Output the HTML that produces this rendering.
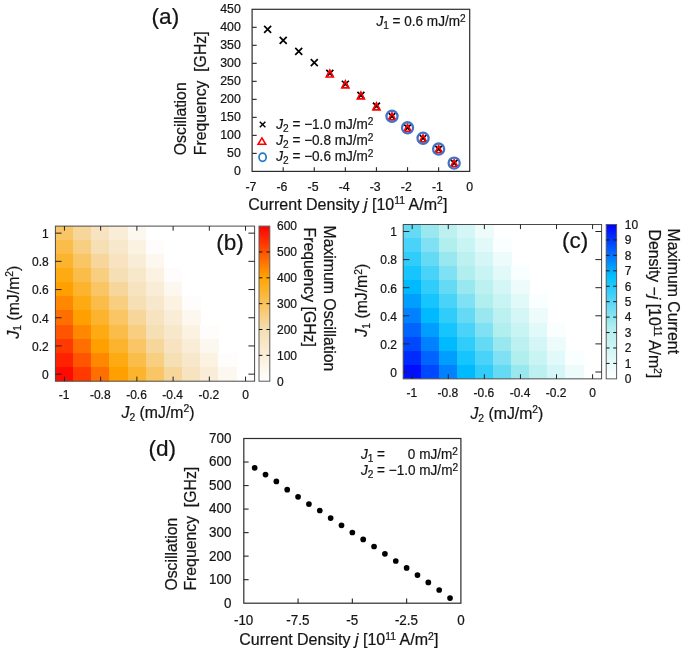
<!DOCTYPE html>
<html><head><meta charset="utf-8"><title>Figure</title>
<style>
html,body{margin:0;padding:0;background:#fff;}
body{width:685px;height:652px;overflow:hidden;font-family:"Liberation Sans", sans-serif;}
svg{display:block;will-change:transform;font-family:"Liberation Sans", sans-serif;}
text{font-family:"Liberation Sans", sans-serif;}
</style></head><body>
<svg width="685" height="652" viewBox="0 0 685 652">
<rect width="685" height="652" fill="#fff"/>
<rect x="252.1" y="9.3" width="217.60" height="162.10" fill="none" stroke="#2c2c2c" stroke-width="1.2"/>
<text transform="translate(240.80 175.20)" font-size="12.3" text-anchor="end" fill="#151515" stroke="#151515" stroke-width="0.22"><tspan>0</tspan></text>
<line x1="252.1" x2="256.7" y1="153.39" y2="153.39" stroke="#2c2c2c" stroke-width="1.15"/>
<text transform="translate(240.80 157.19)" font-size="12.3" text-anchor="end" fill="#151515" stroke="#151515" stroke-width="0.22"><tspan>50</tspan></text>
<line x1="252.1" x2="256.7" y1="135.38" y2="135.38" stroke="#2c2c2c" stroke-width="1.15"/>
<text transform="translate(240.80 139.18)" font-size="12.3" text-anchor="end" fill="#151515" stroke="#151515" stroke-width="0.22"><tspan>100</tspan></text>
<line x1="252.1" x2="256.7" y1="117.37" y2="117.37" stroke="#2c2c2c" stroke-width="1.15"/>
<text transform="translate(240.80 121.17)" font-size="12.3" text-anchor="end" fill="#151515" stroke="#151515" stroke-width="0.22"><tspan>150</tspan></text>
<line x1="252.1" x2="256.7" y1="99.36" y2="99.36" stroke="#2c2c2c" stroke-width="1.15"/>
<text transform="translate(240.80 103.16)" font-size="12.3" text-anchor="end" fill="#151515" stroke="#151515" stroke-width="0.22"><tspan>200</tspan></text>
<line x1="252.1" x2="256.7" y1="81.34" y2="81.34" stroke="#2c2c2c" stroke-width="1.15"/>
<text transform="translate(240.80 85.14)" font-size="12.3" text-anchor="end" fill="#151515" stroke="#151515" stroke-width="0.22"><tspan>250</tspan></text>
<line x1="252.1" x2="256.7" y1="63.33" y2="63.33" stroke="#2c2c2c" stroke-width="1.15"/>
<text transform="translate(240.80 67.13)" font-size="12.3" text-anchor="end" fill="#151515" stroke="#151515" stroke-width="0.22"><tspan>300</tspan></text>
<line x1="252.1" x2="256.7" y1="45.32" y2="45.32" stroke="#2c2c2c" stroke-width="1.15"/>
<text transform="translate(240.80 49.12)" font-size="12.3" text-anchor="end" fill="#151515" stroke="#151515" stroke-width="0.22"><tspan>350</tspan></text>
<line x1="252.1" x2="256.7" y1="27.31" y2="27.31" stroke="#2c2c2c" stroke-width="1.15"/>
<text transform="translate(240.80 31.11)" font-size="12.3" text-anchor="end" fill="#151515" stroke="#151515" stroke-width="0.22"><tspan>400</tspan></text>
<text transform="translate(240.80 13.10)" font-size="12.3" text-anchor="end" fill="#151515" stroke="#151515" stroke-width="0.22"><tspan>450</tspan></text>
<text transform="translate(250.90 191.00)" font-size="12.3" text-anchor="middle" fill="#151515" stroke="#151515" stroke-width="0.22"><tspan>-7</tspan></text>
<line x1="283.19" x2="283.19" y1="171.4" y2="167.20000000000002" stroke="#2c2c2c" stroke-width="1.15"/>
<text transform="translate(281.99 191.00)" font-size="12.3" text-anchor="middle" fill="#151515" stroke="#151515" stroke-width="0.22"><tspan>-6</tspan></text>
<line x1="314.27" x2="314.27" y1="171.4" y2="167.20000000000002" stroke="#2c2c2c" stroke-width="1.15"/>
<text transform="translate(313.07 191.00)" font-size="12.3" text-anchor="middle" fill="#151515" stroke="#151515" stroke-width="0.22"><tspan>-5</tspan></text>
<line x1="345.36" x2="345.36" y1="171.4" y2="167.20000000000002" stroke="#2c2c2c" stroke-width="1.15"/>
<text transform="translate(344.16 191.00)" font-size="12.3" text-anchor="middle" fill="#151515" stroke="#151515" stroke-width="0.22"><tspan>-4</tspan></text>
<line x1="376.44" x2="376.44" y1="171.4" y2="167.20000000000002" stroke="#2c2c2c" stroke-width="1.15"/>
<text transform="translate(375.24 191.00)" font-size="12.3" text-anchor="middle" fill="#151515" stroke="#151515" stroke-width="0.22"><tspan>-3</tspan></text>
<line x1="407.53" x2="407.53" y1="171.4" y2="167.20000000000002" stroke="#2c2c2c" stroke-width="1.15"/>
<text transform="translate(406.33 191.00)" font-size="12.3" text-anchor="middle" fill="#151515" stroke="#151515" stroke-width="0.22"><tspan>-2</tspan></text>
<line x1="438.61" x2="438.61" y1="171.4" y2="167.20000000000002" stroke="#2c2c2c" stroke-width="1.15"/>
<text transform="translate(437.41 191.00)" font-size="12.3" text-anchor="middle" fill="#151515" stroke="#151515" stroke-width="0.22"><tspan>-1</tspan></text>
<text transform="translate(469.70 191.00)" font-size="12.3" text-anchor="middle" fill="#151515" stroke="#151515" stroke-width="0.22"><tspan>0</tspan></text>
<text transform="translate(248.20 209.80) scale(1.014 1)" font-size="15.8" text-anchor="start" fill="#151515" stroke="#151515" stroke-width="0.22"><tspan>Current Density </tspan><tspan font-style="italic">j</tspan><tspan> [10</tspan><tspan font-size="10.3" dy="-5.70">11</tspan><tspan dy="5.70"> A/m</tspan><tspan font-size="10.3" dy="-5.70">2</tspan><tspan dy="5.70">]</tspan></text>
<text transform="translate(186.40 155.20) rotate(-90)" font-size="15.8" text-anchor="start" fill="#151515" stroke="#151515" stroke-width="0.22"><tspan>Oscillation</tspan></text>
<text transform="translate(205.60 155.20) rotate(-90)" font-size="15.8" text-anchor="start" fill="#151515" stroke="#151515" stroke-width="0.22"><tspan>Frequency&#160;&#160;[GHz]</tspan></text>
<text transform="translate(151.60 24.10)" font-size="22.6" text-anchor="start" fill="#151515" stroke="#151515" stroke-width="0.22"><tspan>(a)</tspan></text>
<text transform="translate(376.40 25.70) scale(0.962 1)" font-size="14.1" text-anchor="start" fill="#151515" stroke="#151515" stroke-width="0.22"><tspan font-style="italic">J</tspan><tspan font-size="10.5" dy="3.10">1</tspan><tspan dy="-3.10"> = 0.6 mJ/m</tspan><tspan font-size="10.5" dy="-3.90">2</tspan></text>
<path d="M450.66 159.61L457.66 166.61M450.66 166.61L457.66 159.61" stroke="#000" stroke-width="1.7" fill="none"/>
<path d="M435.11 145.57L442.11 152.57M435.11 152.57L442.11 145.57" stroke="#000" stroke-width="1.7" fill="none"/>
<path d="M419.57 134.76L426.57 141.76M419.57 141.76L426.57 134.76" stroke="#000" stroke-width="1.7" fill="none"/>
<path d="M404.03 124.31L411.03 131.31M404.03 131.31L411.03 124.31" stroke="#000" stroke-width="1.7" fill="none"/>
<path d="M388.49 112.79L395.49 119.79M388.49 119.79L395.49 112.79" stroke="#000" stroke-width="1.7" fill="none"/>
<path d="M372.94 102.70L379.94 109.70M372.94 109.70L379.94 102.70" stroke="#000" stroke-width="1.7" fill="none"/>
<path d="M357.40 91.89L364.40 98.89M357.40 98.89L364.40 91.89" stroke="#000" stroke-width="1.7" fill="none"/>
<path d="M341.86 80.73L348.86 87.73M341.86 87.73L348.86 80.73" stroke="#000" stroke-width="1.7" fill="none"/>
<path d="M326.31 69.92L333.31 76.92M326.31 76.92L333.31 69.92" stroke="#000" stroke-width="1.7" fill="none"/>
<path d="M310.77 59.11L317.77 66.11M310.77 66.11L317.77 59.11" stroke="#000" stroke-width="1.7" fill="none"/>
<path d="M295.23 47.95L302.23 54.95M295.23 54.95L302.23 47.95" stroke="#000" stroke-width="1.7" fill="none"/>
<path d="M279.69 36.78L286.69 43.78M279.69 43.78L286.69 36.78" stroke="#000" stroke-width="1.7" fill="none"/>
<path d="M264.14 25.97L271.14 32.97M264.14 32.97L271.14 25.97" stroke="#000" stroke-width="1.7" fill="none"/>
<path d="M454.16 159.79L457.61 166.69L450.71 166.69Z" stroke="#ff0000" stroke-width="1.7" fill="none" stroke-linejoin="miter" stroke-miterlimit="10"/>
<path d="M438.61 145.74L442.06 152.64L435.16 152.64Z" stroke="#ff0000" stroke-width="1.7" fill="none" stroke-linejoin="miter" stroke-miterlimit="10"/>
<path d="M423.07 134.94L426.52 141.84L419.62 141.84Z" stroke="#ff0000" stroke-width="1.7" fill="none" stroke-linejoin="miter" stroke-miterlimit="10"/>
<path d="M407.53 124.49L410.98 131.39L404.08 131.39Z" stroke="#ff0000" stroke-width="1.7" fill="none" stroke-linejoin="miter" stroke-miterlimit="10"/>
<path d="M391.99 112.96L395.44 119.86L388.54 119.86Z" stroke="#ff0000" stroke-width="1.7" fill="none" stroke-linejoin="miter" stroke-miterlimit="10"/>
<path d="M376.44 102.88L379.89 109.78L372.99 109.78Z" stroke="#ff0000" stroke-width="1.7" fill="none" stroke-linejoin="miter" stroke-miterlimit="10"/>
<path d="M360.90 92.07L364.35 98.97L357.45 98.97Z" stroke="#ff0000" stroke-width="1.7" fill="none" stroke-linejoin="miter" stroke-miterlimit="10"/>
<path d="M345.36 80.90L348.81 87.80L341.91 87.80Z" stroke="#ff0000" stroke-width="1.7" fill="none" stroke-linejoin="miter" stroke-miterlimit="10"/>
<path d="M329.81 70.10L333.26 77.00L326.36 77.00Z" stroke="#ff0000" stroke-width="1.7" fill="none" stroke-linejoin="miter" stroke-miterlimit="10"/>
<ellipse cx="454.16" cy="163.11" rx="5.55" ry="5.55" stroke="#4472c4" stroke-width="2.3" fill="none"/>
<ellipse cx="438.61" cy="149.07" rx="5.55" ry="5.55" stroke="#4472c4" stroke-width="2.3" fill="none"/>
<ellipse cx="423.07" cy="138.26" rx="5.55" ry="5.55" stroke="#4472c4" stroke-width="2.3" fill="none"/>
<ellipse cx="407.53" cy="127.81" rx="5.55" ry="5.55" stroke="#4472c4" stroke-width="2.3" fill="none"/>
<ellipse cx="391.99" cy="116.29" rx="5.55" ry="5.55" stroke="#4472c4" stroke-width="2.3" fill="none"/>
<path d="M259.80 121.70L265.40 127.30M259.80 127.30L265.40 121.70" stroke="#000" stroke-width="1.4" fill="none"/>
<path d="M261.90 137.95L265.70 144.25L258.10 144.25Z" stroke="#ff0000" stroke-width="1.6" fill="none" stroke-linejoin="miter" stroke-miterlimit="10"/>
<ellipse cx="262.60" cy="157.30" rx="3.55" ry="4.1" stroke="#1f78c9" stroke-width="1.7" fill="none"/>
<text transform="translate(276.30 128.60) scale(0.962 1)" font-size="14.1" text-anchor="start" fill="#151515" stroke="#151515" stroke-width="0.22"><tspan font-style="italic">J</tspan><tspan font-size="10.5" dy="3.10">2</tspan><tspan dy="-3.10"> = &#8722;1.0 mJ/m</tspan><tspan font-size="10.5" dy="-3.90">2</tspan></text>
<text transform="translate(276.30 144.90) scale(0.962 1)" font-size="14.1" text-anchor="start" fill="#151515" stroke="#151515" stroke-width="0.22"><tspan font-style="italic">J</tspan><tspan font-size="10.5" dy="3.10">2</tspan><tspan dy="-3.10"> = &#8722;0.8 mJ/m</tspan><tspan font-size="10.5" dy="-3.90">2</tspan></text>
<text transform="translate(276.30 161.20) scale(0.962 1)" font-size="14.1" text-anchor="start" fill="#151515" stroke="#151515" stroke-width="0.22"><tspan font-style="italic">J</tspan><tspan font-size="10.5" dy="3.10">2</tspan><tspan dy="-3.10"> = &#8722;0.6 mJ/m</tspan><tspan font-size="10.5" dy="-3.90">2</tspan></text>
<clipPath id="clipb"><rect x="55.4" y="226.1" width="199.20" height="155.10"/></clipPath>
<g clip-path="url(#clipb)" shape-rendering="crispEdges">
<rect x="55.10" y="225.80" width="18.71" height="14.70" fill="#f9c565"/>
<rect x="55.10" y="239.90" width="18.71" height="14.70" fill="#fbbd4a"/>
<rect x="55.10" y="254.00" width="18.71" height="14.70" fill="#fcb42e"/>
<rect x="55.10" y="268.10" width="18.71" height="14.70" fill="#feab13"/>
<rect x="55.10" y="282.20" width="18.71" height="14.70" fill="#ff9f00"/>
<rect x="55.10" y="296.30" width="18.71" height="14.70" fill="#ff8800"/>
<rect x="55.10" y="310.40" width="18.71" height="14.70" fill="#ff6f00"/>
<rect x="55.10" y="324.50" width="18.71" height="14.70" fill="#ff5400"/>
<rect x="55.10" y="338.60" width="18.71" height="14.70" fill="#ff3900"/>
<rect x="55.10" y="352.70" width="18.71" height="14.70" fill="#ff2200"/>
<rect x="55.10" y="366.80" width="18.71" height="14.70" fill="#ff0a00"/>
<rect x="73.20" y="225.80" width="18.71" height="14.70" fill="#f6d69b"/>
<rect x="73.20" y="239.90" width="18.71" height="14.70" fill="#f8ce80"/>
<rect x="73.20" y="254.00" width="18.71" height="14.70" fill="#f9c565"/>
<rect x="73.20" y="268.10" width="18.71" height="14.70" fill="#fbbd4a"/>
<rect x="73.20" y="282.20" width="18.71" height="14.70" fill="#fcb42e"/>
<rect x="73.20" y="296.30" width="18.71" height="14.70" fill="#feab13"/>
<rect x="73.20" y="310.40" width="18.71" height="14.70" fill="#ff9f00"/>
<rect x="73.20" y="324.50" width="18.71" height="14.70" fill="#ff8800"/>
<rect x="73.20" y="338.60" width="18.71" height="14.70" fill="#ff6f00"/>
<rect x="73.20" y="352.70" width="18.71" height="14.70" fill="#ff5400"/>
<rect x="73.20" y="366.80" width="18.71" height="14.70" fill="#ff3900"/>
<rect x="91.32" y="225.80" width="18.71" height="14.70" fill="#f7e3c0"/>
<rect x="91.32" y="239.90" width="18.71" height="14.70" fill="#f5dfb5"/>
<rect x="91.32" y="254.00" width="18.71" height="14.70" fill="#f6d69b"/>
<rect x="91.32" y="268.10" width="18.71" height="14.70" fill="#f8ce80"/>
<rect x="91.32" y="282.20" width="18.71" height="14.70" fill="#f9c565"/>
<rect x="91.32" y="296.30" width="18.71" height="14.70" fill="#fbbd4a"/>
<rect x="91.32" y="310.40" width="18.71" height="14.70" fill="#fcb42e"/>
<rect x="91.32" y="324.50" width="18.71" height="14.70" fill="#feab13"/>
<rect x="91.32" y="338.60" width="18.71" height="14.70" fill="#ff9f00"/>
<rect x="91.32" y="352.70" width="18.71" height="14.70" fill="#ff8800"/>
<rect x="91.32" y="366.80" width="18.71" height="14.70" fill="#ff6f00"/>
<rect x="109.42" y="225.80" width="18.71" height="14.70" fill="#faedd7"/>
<rect x="109.42" y="239.90" width="18.71" height="14.70" fill="#f8e8cb"/>
<rect x="109.42" y="254.00" width="18.71" height="14.70" fill="#f7e3c0"/>
<rect x="109.42" y="268.10" width="18.71" height="14.70" fill="#f5dfb5"/>
<rect x="109.42" y="282.20" width="18.71" height="14.70" fill="#f6d69b"/>
<rect x="109.42" y="296.30" width="18.71" height="14.70" fill="#f8ce80"/>
<rect x="109.42" y="310.40" width="18.71" height="14.70" fill="#f9c565"/>
<rect x="109.42" y="324.50" width="18.71" height="14.70" fill="#fbbd4a"/>
<rect x="109.42" y="338.60" width="18.71" height="14.70" fill="#fcb42e"/>
<rect x="109.42" y="352.70" width="18.71" height="14.70" fill="#feab13"/>
<rect x="109.42" y="366.80" width="18.71" height="14.70" fill="#ff9f00"/>
<rect x="127.53" y="225.80" width="18.71" height="14.70" fill="#fdf8ef"/>
<rect x="127.53" y="239.90" width="18.71" height="14.70" fill="#fbf2e2"/>
<rect x="127.53" y="254.00" width="18.71" height="14.70" fill="#faedd7"/>
<rect x="127.53" y="268.10" width="18.71" height="14.70" fill="#f8e8cb"/>
<rect x="127.53" y="282.20" width="18.71" height="14.70" fill="#f7e3c0"/>
<rect x="127.53" y="296.30" width="18.71" height="14.70" fill="#f5dfb5"/>
<rect x="127.53" y="310.40" width="18.71" height="14.70" fill="#f6d69b"/>
<rect x="127.53" y="324.50" width="18.71" height="14.70" fill="#f8ce80"/>
<rect x="127.53" y="338.60" width="18.71" height="14.70" fill="#f9c565"/>
<rect x="127.53" y="352.70" width="18.71" height="14.70" fill="#fbbd4a"/>
<rect x="127.53" y="366.80" width="18.71" height="14.70" fill="#fcb42e"/>
<rect x="145.64" y="239.90" width="18.71" height="14.70" fill="#fefdfb"/>
<rect x="145.64" y="254.00" width="18.71" height="14.70" fill="#fdf8ef"/>
<rect x="145.64" y="268.10" width="18.71" height="14.70" fill="#fbf2e2"/>
<rect x="145.64" y="282.20" width="18.71" height="14.70" fill="#faedd7"/>
<rect x="145.64" y="296.30" width="18.71" height="14.70" fill="#f8e8cb"/>
<rect x="145.64" y="310.40" width="18.71" height="14.70" fill="#f7e3c0"/>
<rect x="145.64" y="324.50" width="18.71" height="14.70" fill="#f5dfb5"/>
<rect x="145.64" y="338.60" width="18.71" height="14.70" fill="#f6d69b"/>
<rect x="145.64" y="352.70" width="18.71" height="14.70" fill="#f8ce80"/>
<rect x="145.64" y="366.80" width="18.71" height="14.70" fill="#f9c565"/>
<rect x="163.75" y="268.10" width="18.71" height="14.70" fill="#fefdfb"/>
<rect x="163.75" y="282.20" width="18.71" height="14.70" fill="#fdf8ef"/>
<rect x="163.75" y="296.30" width="18.71" height="14.70" fill="#fbf2e2"/>
<rect x="163.75" y="310.40" width="18.71" height="14.70" fill="#faedd7"/>
<rect x="163.75" y="324.50" width="18.71" height="14.70" fill="#f8e8cb"/>
<rect x="163.75" y="338.60" width="18.71" height="14.70" fill="#f7e3c0"/>
<rect x="163.75" y="352.70" width="18.71" height="14.70" fill="#f5dfb5"/>
<rect x="163.75" y="366.80" width="18.71" height="14.70" fill="#f6d69b"/>
<rect x="181.86" y="296.30" width="18.71" height="14.70" fill="#fefdfb"/>
<rect x="181.86" y="310.40" width="18.71" height="14.70" fill="#fdf8ef"/>
<rect x="181.86" y="324.50" width="18.71" height="14.70" fill="#fbf2e2"/>
<rect x="181.86" y="338.60" width="18.71" height="14.70" fill="#faedd7"/>
<rect x="181.86" y="352.70" width="18.71" height="14.70" fill="#f8e8cb"/>
<rect x="181.86" y="366.80" width="18.71" height="14.70" fill="#f7e3c0"/>
<rect x="199.97" y="324.50" width="18.71" height="14.70" fill="#fefdfb"/>
<rect x="199.97" y="338.60" width="18.71" height="14.70" fill="#fdf8ef"/>
<rect x="199.97" y="352.70" width="18.71" height="14.70" fill="#fbf2e2"/>
<rect x="199.97" y="366.80" width="18.71" height="14.70" fill="#faedd7"/>
<rect x="218.08" y="352.70" width="18.71" height="14.70" fill="#fefdfb"/>
<rect x="218.08" y="366.80" width="18.71" height="14.70" fill="#fdf8ef"/>
</g>
<rect x="55.4" y="226.1" width="199.20" height="155.10" fill="none" stroke="#4a4a4a" stroke-width="1"/>
<path d="M64.45 226.1v4.6M64.45 381.2v-4.6M55.4 233.15h6.2M254.6 233.15h-6.2" stroke="#222" stroke-width="1" fill="none"/>
<text transform="translate(64.05 399.00)" font-size="12" text-anchor="middle" fill="#151515" stroke="#151515" stroke-width="0.22"><tspan>-1</tspan></text>
<text transform="translate(48.80 237.95)" font-size="12" text-anchor="end" fill="#151515" stroke="#151515" stroke-width="0.22"><tspan>1</tspan></text>
<path d="M100.67 226.1v4.6M100.67 381.2v-4.6M55.4 261.35h6.2M254.6 261.35h-6.2" stroke="#222" stroke-width="1" fill="none"/>
<text transform="translate(100.27 399.00)" font-size="12" text-anchor="middle" fill="#151515" stroke="#151515" stroke-width="0.22"><tspan>-0.8</tspan></text>
<text transform="translate(48.80 266.15)" font-size="12" text-anchor="end" fill="#151515" stroke="#151515" stroke-width="0.22"><tspan>0.8</tspan></text>
<path d="M136.89 226.1v4.6M136.89 381.2v-4.6M55.4 289.55h6.2M254.6 289.55h-6.2" stroke="#222" stroke-width="1" fill="none"/>
<text transform="translate(136.49 399.00)" font-size="12" text-anchor="middle" fill="#151515" stroke="#151515" stroke-width="0.22"><tspan>-0.6</tspan></text>
<text transform="translate(48.80 294.35)" font-size="12" text-anchor="end" fill="#151515" stroke="#151515" stroke-width="0.22"><tspan>0.6</tspan></text>
<path d="M173.11 226.1v4.6M173.11 381.2v-4.6M55.4 317.75h6.2M254.6 317.75h-6.2" stroke="#222" stroke-width="1" fill="none"/>
<text transform="translate(172.71 399.00)" font-size="12" text-anchor="middle" fill="#151515" stroke="#151515" stroke-width="0.22"><tspan>-0.4</tspan></text>
<text transform="translate(48.80 322.55)" font-size="12" text-anchor="end" fill="#151515" stroke="#151515" stroke-width="0.22"><tspan>0.4</tspan></text>
<path d="M209.33 226.1v4.6M209.33 381.2v-4.6M55.4 345.95h6.2M254.6 345.95h-6.2" stroke="#222" stroke-width="1" fill="none"/>
<text transform="translate(208.93 399.00)" font-size="12" text-anchor="middle" fill="#151515" stroke="#151515" stroke-width="0.22"><tspan>-0.2</tspan></text>
<text transform="translate(48.80 350.75)" font-size="12" text-anchor="end" fill="#151515" stroke="#151515" stroke-width="0.22"><tspan>0.2</tspan></text>
<path d="M245.55 226.1v4.6M245.55 381.2v-4.6M55.4 374.15h6.2M254.6 374.15h-6.2" stroke="#222" stroke-width="1" fill="none"/>
<text transform="translate(245.55 399.00)" font-size="12" text-anchor="middle" fill="#151515" stroke="#151515" stroke-width="0.22"><tspan>0</tspan></text>
<text transform="translate(48.80 378.95)" font-size="12" text-anchor="end" fill="#151515" stroke="#151515" stroke-width="0.22"><tspan>0</tspan></text>
<text transform="translate(158.00 418.00)" font-size="15.8" text-anchor="middle" fill="#151515" stroke="#151515" stroke-width="0.22"><tspan font-style="italic">J</tspan><tspan font-size="10.3" dy="2.80">2</tspan><tspan dy="-2.80"> (mJ/m</tspan><tspan font-size="10.3" dy="-5.70">2</tspan><tspan dy="5.70">)</tspan></text>
<text transform="translate(18.50 302.15) rotate(-90)" font-size="15.8" text-anchor="middle" fill="#151515" stroke="#151515" stroke-width="0.22"><tspan font-style="italic">J</tspan><tspan font-size="10.3" dy="2.80">1</tspan><tspan dy="-2.80"> (mJ/m</tspan><tspan font-size="10.3" dy="-5.70">2</tspan><tspan dy="5.70">)</tspan></text>
<text transform="translate(216.20 249.60)" font-size="22.6" text-anchor="start" fill="#151515" stroke="#151515" stroke-width="0.22"><tspan>(b)</tspan></text>
<linearGradient id="gradb" x1="0" y1="1" x2="0" y2="0">
<stop offset="0" stop-color="#ffffff"/>
<stop offset="0.3333" stop-color="#f5deb3"/>
<stop offset="0.6667" stop-color="#ffa500"/>
<stop offset="1" stop-color="#ff0000"/>
</linearGradient>
<rect x="259.0" y="226.1" width="10.80" height="155.10" fill="url(#gradb)" stroke="#5a5a5a" stroke-width="1"/>
<text transform="translate(277.00 385.50)" font-size="12" text-anchor="start" fill="#151515" stroke="#151515" stroke-width="0.22"><tspan>0</tspan></text>
<path d="M259.0 355.35h3.4M269.8 355.35h-3.4" stroke="#111" stroke-width="1" fill="none"/>
<text transform="translate(277.00 359.65)" font-size="12" text-anchor="start" fill="#151515" stroke="#151515" stroke-width="0.22"><tspan>100</tspan></text>
<path d="M259.0 329.50h3.4M269.8 329.50h-3.4" stroke="#111" stroke-width="1" fill="none"/>
<text transform="translate(277.00 333.80)" font-size="12" text-anchor="start" fill="#151515" stroke="#151515" stroke-width="0.22"><tspan>200</tspan></text>
<path d="M259.0 303.65h3.4M269.8 303.65h-3.4" stroke="#111" stroke-width="1" fill="none"/>
<text transform="translate(277.00 307.95)" font-size="12" text-anchor="start" fill="#151515" stroke="#151515" stroke-width="0.22"><tspan>300</tspan></text>
<path d="M259.0 277.80h3.4M269.8 277.80h-3.4" stroke="#111" stroke-width="1" fill="none"/>
<text transform="translate(277.00 282.10)" font-size="12" text-anchor="start" fill="#151515" stroke="#151515" stroke-width="0.22"><tspan>400</tspan></text>
<path d="M259.0 251.95h3.4M269.8 251.95h-3.4" stroke="#111" stroke-width="1" fill="none"/>
<text transform="translate(277.00 256.25)" font-size="12" text-anchor="start" fill="#151515" stroke="#151515" stroke-width="0.22"><tspan>500</tspan></text>
<text transform="translate(277.00 230.40)" font-size="12" text-anchor="start" fill="#151515" stroke="#151515" stroke-width="0.22"><tspan>600</tspan></text>
<text transform="translate(323.50 225.50) rotate(90)" font-size="15.8" text-anchor="start" fill="#151515" stroke="#151515" stroke-width="0.22"><tspan>Maximum Oscillation</tspan></text>
<text transform="translate(304.40 227.50) rotate(90)" font-size="15.8" text-anchor="start" fill="#151515" stroke="#151515" stroke-width="0.22"><tspan>Frequency [GHz]</tspan></text>
<clipPath id="clipc"><rect x="403.2" y="224.5" width="198.40" height="154.35"/></clipPath>
<g clip-path="url(#clipc)" shape-rendering="crispEdges">
<rect x="402.88" y="224.17" width="18.64" height="14.65" fill="#65daf5"/>
<rect x="402.88" y="238.22" width="18.64" height="14.65" fill="#4ad3f8"/>
<rect x="402.88" y="252.28" width="18.64" height="14.65" fill="#30ccfa"/>
<rect x="402.88" y="266.32" width="18.64" height="14.65" fill="#16c5fd"/>
<rect x="402.88" y="280.38" width="18.64" height="14.65" fill="#00baff"/>
<rect x="402.88" y="294.43" width="18.64" height="14.65" fill="#009eff"/>
<rect x="402.88" y="308.48" width="18.64" height="14.65" fill="#0081ff"/>
<rect x="402.88" y="322.53" width="18.64" height="14.65" fill="#0064ff"/>
<rect x="402.88" y="336.57" width="18.64" height="14.65" fill="#0048ff"/>
<rect x="402.88" y="350.62" width="18.64" height="14.65" fill="#002bff"/>
<rect x="402.88" y="364.68" width="18.64" height="14.65" fill="#000eff"/>
<rect x="420.92" y="224.17" width="18.64" height="14.65" fill="#99e8f0"/>
<rect x="420.92" y="238.22" width="18.64" height="14.65" fill="#7fe1f3"/>
<rect x="420.92" y="252.28" width="18.64" height="14.65" fill="#65daf5"/>
<rect x="420.92" y="266.32" width="18.64" height="14.65" fill="#4ad3f8"/>
<rect x="420.92" y="280.38" width="18.64" height="14.65" fill="#30ccfa"/>
<rect x="420.92" y="294.43" width="18.64" height="14.65" fill="#16c5fd"/>
<rect x="420.92" y="308.48" width="18.64" height="14.65" fill="#00baff"/>
<rect x="420.92" y="322.53" width="18.64" height="14.65" fill="#009eff"/>
<rect x="420.92" y="336.57" width="18.64" height="14.65" fill="#0081ff"/>
<rect x="420.92" y="350.62" width="18.64" height="14.65" fill="#0064ff"/>
<rect x="420.92" y="364.68" width="18.64" height="14.65" fill="#0048ff"/>
<rect x="438.96" y="224.17" width="18.64" height="14.65" fill="#bdf1f1"/>
<rect x="438.96" y="238.22" width="18.64" height="14.65" fill="#b1eeee"/>
<rect x="438.96" y="252.28" width="18.64" height="14.65" fill="#99e8f0"/>
<rect x="438.96" y="266.32" width="18.64" height="14.65" fill="#7fe1f3"/>
<rect x="438.96" y="280.38" width="18.64" height="14.65" fill="#65daf5"/>
<rect x="438.96" y="294.43" width="18.64" height="14.65" fill="#4ad3f8"/>
<rect x="438.96" y="308.48" width="18.64" height="14.65" fill="#30ccfa"/>
<rect x="438.96" y="322.53" width="18.64" height="14.65" fill="#16c5fd"/>
<rect x="438.96" y="336.57" width="18.64" height="14.65" fill="#00baff"/>
<rect x="438.96" y="350.62" width="18.64" height="14.65" fill="#009eff"/>
<rect x="438.96" y="364.68" width="18.64" height="14.65" fill="#0081ff"/>
<rect x="457.00" y="224.17" width="18.64" height="14.65" fill="#d5f6f6"/>
<rect x="457.00" y="238.22" width="18.64" height="14.65" fill="#c9f4f4"/>
<rect x="457.00" y="252.28" width="18.64" height="14.65" fill="#bdf1f1"/>
<rect x="457.00" y="266.32" width="18.64" height="14.65" fill="#b1eeee"/>
<rect x="457.00" y="280.38" width="18.64" height="14.65" fill="#99e8f0"/>
<rect x="457.00" y="294.43" width="18.64" height="14.65" fill="#7fe1f3"/>
<rect x="457.00" y="308.48" width="18.64" height="14.65" fill="#65daf5"/>
<rect x="457.00" y="322.53" width="18.64" height="14.65" fill="#4ad3f8"/>
<rect x="457.00" y="336.57" width="18.64" height="14.65" fill="#30ccfa"/>
<rect x="457.00" y="350.62" width="18.64" height="14.65" fill="#16c5fd"/>
<rect x="457.00" y="364.68" width="18.64" height="14.65" fill="#00baff"/>
<rect x="475.04" y="224.17" width="18.64" height="14.65" fill="#edfbfb"/>
<rect x="475.04" y="238.22" width="18.64" height="14.65" fill="#e1f9f9"/>
<rect x="475.04" y="252.28" width="18.64" height="14.65" fill="#d5f6f6"/>
<rect x="475.04" y="266.32" width="18.64" height="14.65" fill="#c9f4f4"/>
<rect x="475.04" y="280.38" width="18.64" height="14.65" fill="#bdf1f1"/>
<rect x="475.04" y="294.43" width="18.64" height="14.65" fill="#b1eeee"/>
<rect x="475.04" y="308.48" width="18.64" height="14.65" fill="#99e8f0"/>
<rect x="475.04" y="322.53" width="18.64" height="14.65" fill="#7fe1f3"/>
<rect x="475.04" y="336.57" width="18.64" height="14.65" fill="#65daf5"/>
<rect x="475.04" y="350.62" width="18.64" height="14.65" fill="#4ad3f8"/>
<rect x="475.04" y="364.68" width="18.64" height="14.65" fill="#30ccfa"/>
<rect x="493.08" y="238.22" width="18.64" height="14.65" fill="#f9fefe"/>
<rect x="493.08" y="252.28" width="18.64" height="14.65" fill="#edfbfb"/>
<rect x="493.08" y="266.32" width="18.64" height="14.65" fill="#e1f9f9"/>
<rect x="493.08" y="280.38" width="18.64" height="14.65" fill="#d5f6f6"/>
<rect x="493.08" y="294.43" width="18.64" height="14.65" fill="#c9f4f4"/>
<rect x="493.08" y="308.48" width="18.64" height="14.65" fill="#bdf1f1"/>
<rect x="493.08" y="322.53" width="18.64" height="14.65" fill="#b1eeee"/>
<rect x="493.08" y="336.57" width="18.64" height="14.65" fill="#99e8f0"/>
<rect x="493.08" y="350.62" width="18.64" height="14.65" fill="#7fe1f3"/>
<rect x="493.08" y="364.68" width="18.64" height="14.65" fill="#65daf5"/>
<rect x="511.12" y="266.32" width="18.64" height="14.65" fill="#f9fefe"/>
<rect x="511.12" y="280.38" width="18.64" height="14.65" fill="#edfbfb"/>
<rect x="511.12" y="294.43" width="18.64" height="14.65" fill="#e1f9f9"/>
<rect x="511.12" y="308.48" width="18.64" height="14.65" fill="#d5f6f6"/>
<rect x="511.12" y="322.53" width="18.64" height="14.65" fill="#c9f4f4"/>
<rect x="511.12" y="336.57" width="18.64" height="14.65" fill="#bdf1f1"/>
<rect x="511.12" y="350.62" width="18.64" height="14.65" fill="#b1eeee"/>
<rect x="511.12" y="364.68" width="18.64" height="14.65" fill="#99e8f0"/>
<rect x="529.16" y="294.43" width="18.64" height="14.65" fill="#f9fefe"/>
<rect x="529.16" y="308.48" width="18.64" height="14.65" fill="#edfbfb"/>
<rect x="529.16" y="322.53" width="18.64" height="14.65" fill="#e1f9f9"/>
<rect x="529.16" y="336.57" width="18.64" height="14.65" fill="#d5f6f6"/>
<rect x="529.16" y="350.62" width="18.64" height="14.65" fill="#c9f4f4"/>
<rect x="529.16" y="364.68" width="18.64" height="14.65" fill="#bdf1f1"/>
<rect x="547.20" y="322.53" width="18.64" height="14.65" fill="#f9fefe"/>
<rect x="547.20" y="336.57" width="18.64" height="14.65" fill="#edfbfb"/>
<rect x="547.20" y="350.62" width="18.64" height="14.65" fill="#e1f9f9"/>
<rect x="547.20" y="364.68" width="18.64" height="14.65" fill="#d5f6f6"/>
<rect x="565.24" y="350.62" width="18.64" height="14.65" fill="#f9fefe"/>
<rect x="565.24" y="364.68" width="18.64" height="14.65" fill="#edfbfb"/>
</g>
<rect x="403.2" y="224.5" width="198.40" height="154.35" fill="none" stroke="#4a4a4a" stroke-width="1"/>
<path d="M412.20 224.5v4.6M412.20 378.85v-4.6M403.2 231.50h6.2M601.6 231.50h-6.2" stroke="#222" stroke-width="1" fill="none"/>
<text transform="translate(411.80 396.50)" font-size="12" text-anchor="middle" fill="#151515" stroke="#151515" stroke-width="0.22"><tspan>-1</tspan></text>
<text transform="translate(397.00 236.30)" font-size="12" text-anchor="end" fill="#151515" stroke="#151515" stroke-width="0.22"><tspan>1</tspan></text>
<path d="M448.28 224.5v4.6M448.28 378.85v-4.6M403.2 259.60h6.2M601.6 259.60h-6.2" stroke="#222" stroke-width="1" fill="none"/>
<text transform="translate(447.88 396.50)" font-size="12" text-anchor="middle" fill="#151515" stroke="#151515" stroke-width="0.22"><tspan>-0.8</tspan></text>
<text transform="translate(397.00 264.40)" font-size="12" text-anchor="end" fill="#151515" stroke="#151515" stroke-width="0.22"><tspan>0.8</tspan></text>
<path d="M484.36 224.5v4.6M484.36 378.85v-4.6M403.2 287.70h6.2M601.6 287.70h-6.2" stroke="#222" stroke-width="1" fill="none"/>
<text transform="translate(483.96 396.50)" font-size="12" text-anchor="middle" fill="#151515" stroke="#151515" stroke-width="0.22"><tspan>-0.6</tspan></text>
<text transform="translate(397.00 292.50)" font-size="12" text-anchor="end" fill="#151515" stroke="#151515" stroke-width="0.22"><tspan>0.6</tspan></text>
<path d="M520.44 224.5v4.6M520.44 378.85v-4.6M403.2 315.80h6.2M601.6 315.80h-6.2" stroke="#222" stroke-width="1" fill="none"/>
<text transform="translate(520.04 396.50)" font-size="12" text-anchor="middle" fill="#151515" stroke="#151515" stroke-width="0.22"><tspan>-0.4</tspan></text>
<text transform="translate(397.00 320.60)" font-size="12" text-anchor="end" fill="#151515" stroke="#151515" stroke-width="0.22"><tspan>0.4</tspan></text>
<path d="M556.52 224.5v4.6M556.52 378.85v-4.6M403.2 343.90h6.2M601.6 343.90h-6.2" stroke="#222" stroke-width="1" fill="none"/>
<text transform="translate(556.12 396.50)" font-size="12" text-anchor="middle" fill="#151515" stroke="#151515" stroke-width="0.22"><tspan>-0.2</tspan></text>
<text transform="translate(397.00 348.70)" font-size="12" text-anchor="end" fill="#151515" stroke="#151515" stroke-width="0.22"><tspan>0.2</tspan></text>
<path d="M592.60 224.5v4.6M592.60 378.85v-4.6M403.2 372.00h6.2M601.6 372.00h-6.2" stroke="#222" stroke-width="1" fill="none"/>
<text transform="translate(592.60 396.50)" font-size="12" text-anchor="middle" fill="#151515" stroke="#151515" stroke-width="0.22"><tspan>0</tspan></text>
<text transform="translate(397.00 376.80)" font-size="12" text-anchor="end" fill="#151515" stroke="#151515" stroke-width="0.22"><tspan>0</tspan></text>
<text transform="translate(506.90 418.80)" font-size="15.8" text-anchor="middle" fill="#151515" stroke="#151515" stroke-width="0.22"><tspan font-style="italic">J</tspan><tspan font-size="10.3" dy="2.80">2</tspan><tspan dy="-2.80"> (mJ/m</tspan><tspan font-size="10.3" dy="-5.70">2</tspan><tspan dy="5.70">)</tspan></text>
<text transform="translate(367.20 300.18) rotate(-90)" font-size="15.8" text-anchor="middle" fill="#151515" stroke="#151515" stroke-width="0.22"><tspan font-style="italic">J</tspan><tspan font-size="10.3" dy="2.80">1</tspan><tspan dy="-2.80"> (mJ/m</tspan><tspan font-size="10.3" dy="-5.70">2</tspan><tspan dy="5.70">)</tspan></text>
<text transform="translate(562.00 248.00)" font-size="22.6" text-anchor="start" fill="#151515" stroke="#151515" stroke-width="0.22"><tspan>(c)</tspan></text>
<linearGradient id="gradc" x1="0" y1="1" x2="0" y2="0">
<stop offset="0" stop-color="#ffffff"/>
<stop offset="0.3333" stop-color="#afeeee"/>
<stop offset="0.6667" stop-color="#00bfff"/>
<stop offset="1" stop-color="#0000ff"/>
</linearGradient>
<rect x="606.2" y="224.5" width="10.40" height="154.35" fill="url(#gradc)" stroke="#5a5a5a" stroke-width="1"/>
<text transform="translate(624.80 383.15)" font-size="12" text-anchor="start" fill="#151515" stroke="#151515" stroke-width="0.22"><tspan>0</tspan></text>
<path d="M606.2 363.42h3.4M616.6 363.42h-3.4" stroke="#111" stroke-width="1" fill="none"/>
<text transform="translate(624.80 367.72)" font-size="12" text-anchor="start" fill="#151515" stroke="#151515" stroke-width="0.22"><tspan>1</tspan></text>
<path d="M606.2 347.98h3.4M616.6 347.98h-3.4" stroke="#111" stroke-width="1" fill="none"/>
<text transform="translate(624.80 352.28)" font-size="12" text-anchor="start" fill="#151515" stroke="#151515" stroke-width="0.22"><tspan>2</tspan></text>
<path d="M606.2 332.55h3.4M616.6 332.55h-3.4" stroke="#111" stroke-width="1" fill="none"/>
<text transform="translate(624.80 336.85)" font-size="12" text-anchor="start" fill="#151515" stroke="#151515" stroke-width="0.22"><tspan>3</tspan></text>
<path d="M606.2 317.11h3.4M616.6 317.11h-3.4" stroke="#111" stroke-width="1" fill="none"/>
<text transform="translate(624.80 321.41)" font-size="12" text-anchor="start" fill="#151515" stroke="#151515" stroke-width="0.22"><tspan>4</tspan></text>
<path d="M606.2 301.68h3.4M616.6 301.68h-3.4" stroke="#111" stroke-width="1" fill="none"/>
<text transform="translate(624.80 305.98)" font-size="12" text-anchor="start" fill="#151515" stroke="#151515" stroke-width="0.22"><tspan>5</tspan></text>
<path d="M606.2 286.24h3.4M616.6 286.24h-3.4" stroke="#111" stroke-width="1" fill="none"/>
<text transform="translate(624.80 290.54)" font-size="12" text-anchor="start" fill="#151515" stroke="#151515" stroke-width="0.22"><tspan>6</tspan></text>
<path d="M606.2 270.81h3.4M616.6 270.81h-3.4" stroke="#111" stroke-width="1" fill="none"/>
<text transform="translate(624.80 275.11)" font-size="12" text-anchor="start" fill="#151515" stroke="#151515" stroke-width="0.22"><tspan>7</tspan></text>
<path d="M606.2 255.37h3.4M616.6 255.37h-3.4" stroke="#111" stroke-width="1" fill="none"/>
<text transform="translate(624.80 259.67)" font-size="12" text-anchor="start" fill="#151515" stroke="#151515" stroke-width="0.22"><tspan>8</tspan></text>
<path d="M606.2 239.94h3.4M616.6 239.94h-3.4" stroke="#111" stroke-width="1" fill="none"/>
<text transform="translate(624.80 244.24)" font-size="12" text-anchor="start" fill="#151515" stroke="#151515" stroke-width="0.22"><tspan>9</tspan></text>
<text transform="translate(624.80 228.80)" font-size="12" text-anchor="start" fill="#151515" stroke="#151515" stroke-width="0.22"><tspan>10</tspan></text>
<text transform="translate(668.20 228.50) rotate(90)" font-size="15.8" text-anchor="start" fill="#151515" stroke="#151515" stroke-width="0.22"><tspan>Maximum Current</tspan></text>
<text transform="translate(648.60 229.50) rotate(90)" font-size="15.8" text-anchor="start" fill="#151515" stroke="#151515" stroke-width="0.22"><tspan>Density &#8722;</tspan><tspan font-style="italic">j</tspan><tspan> [10</tspan><tspan font-size="10.4" dy="-5.70">11</tspan><tspan dy="5.70"> A/m</tspan><tspan font-size="10.4" dy="-5.70">2</tspan><tspan dy="5.70">]</tspan></text>
<rect x="243.8" y="438.5" width="217.10" height="164.70" fill="none" stroke="#2c2c2c" stroke-width="1.2"/>
<text transform="translate(231.40 607.60) scale(0.965 1)" font-size="13.9" text-anchor="end" fill="#151515" stroke="#151515" stroke-width="0.22"><tspan>0</tspan></text>
<line x1="243.8" x2="248.60000000000002" y1="579.67" y2="579.67" stroke="#2c2c2c" stroke-width="1.15"/>
<text transform="translate(231.40 584.07) scale(0.965 1)" font-size="13.9" text-anchor="end" fill="#151515" stroke="#151515" stroke-width="0.22"><tspan>100</tspan></text>
<line x1="243.8" x2="248.60000000000002" y1="556.14" y2="556.14" stroke="#2c2c2c" stroke-width="1.15"/>
<text transform="translate(231.40 560.54) scale(0.965 1)" font-size="13.9" text-anchor="end" fill="#151515" stroke="#151515" stroke-width="0.22"><tspan>200</tspan></text>
<line x1="243.8" x2="248.60000000000002" y1="532.61" y2="532.61" stroke="#2c2c2c" stroke-width="1.15"/>
<text transform="translate(231.40 537.01) scale(0.965 1)" font-size="13.9" text-anchor="end" fill="#151515" stroke="#151515" stroke-width="0.22"><tspan>300</tspan></text>
<line x1="243.8" x2="248.60000000000002" y1="509.09" y2="509.09" stroke="#2c2c2c" stroke-width="1.15"/>
<text transform="translate(231.40 513.49) scale(0.965 1)" font-size="13.9" text-anchor="end" fill="#151515" stroke="#151515" stroke-width="0.22"><tspan>400</tspan></text>
<line x1="243.8" x2="248.60000000000002" y1="485.56" y2="485.56" stroke="#2c2c2c" stroke-width="1.15"/>
<text transform="translate(231.40 489.96) scale(0.965 1)" font-size="13.9" text-anchor="end" fill="#151515" stroke="#151515" stroke-width="0.22"><tspan>500</tspan></text>
<line x1="243.8" x2="248.60000000000002" y1="462.03" y2="462.03" stroke="#2c2c2c" stroke-width="1.15"/>
<text transform="translate(231.40 466.43) scale(0.965 1)" font-size="13.9" text-anchor="end" fill="#151515" stroke="#151515" stroke-width="0.22"><tspan>600</tspan></text>
<text transform="translate(231.40 442.90) scale(0.965 1)" font-size="13.9" text-anchor="end" fill="#151515" stroke="#151515" stroke-width="0.22"><tspan>700</tspan></text>
<text transform="translate(243.60 625.20) scale(0.965 1)" font-size="13.9" text-anchor="middle" fill="#151515" stroke="#151515" stroke-width="0.22"><tspan>-10</tspan></text>
<line x1="298.07" x2="298.07" y1="603.2" y2="598.6" stroke="#2c2c2c" stroke-width="1.15"/>
<text transform="translate(297.88 625.20) scale(0.965 1)" font-size="13.9" text-anchor="middle" fill="#151515" stroke="#151515" stroke-width="0.22"><tspan>-7.5</tspan></text>
<line x1="352.35" x2="352.35" y1="603.2" y2="598.6" stroke="#2c2c2c" stroke-width="1.15"/>
<text transform="translate(352.15 625.20) scale(0.965 1)" font-size="13.9" text-anchor="middle" fill="#151515" stroke="#151515" stroke-width="0.22"><tspan>-5</tspan></text>
<line x1="406.62" x2="406.62" y1="603.2" y2="598.6" stroke="#2c2c2c" stroke-width="1.15"/>
<text transform="translate(406.43 625.20) scale(0.965 1)" font-size="13.9" text-anchor="middle" fill="#151515" stroke="#151515" stroke-width="0.22"><tspan>-2.5</tspan></text>
<text transform="translate(460.90 625.20) scale(0.965 1)" font-size="13.9" text-anchor="middle" fill="#151515" stroke="#151515" stroke-width="0.22"><tspan>0</tspan></text>
<text transform="translate(239.20 645.20) scale(1.014 1)" font-size="15.8" text-anchor="start" fill="#151515" stroke="#151515" stroke-width="0.22"><tspan>Current Density </tspan><tspan font-style="italic">j</tspan><tspan> [10</tspan><tspan font-size="10.3" dy="-5.70">11</tspan><tspan dy="5.70"> A/m</tspan><tspan font-size="10.3" dy="-5.70">2</tspan><tspan dy="5.70">]</tspan></text>
<text transform="translate(177.30 590.60) rotate(-90)" font-size="15.8" text-anchor="start" fill="#151515" stroke="#151515" stroke-width="0.22"><tspan>Oscillation</tspan></text>
<text transform="translate(196.40 590.60) rotate(-90)" font-size="15.8" text-anchor="start" fill="#151515" stroke="#151515" stroke-width="0.22"><tspan>Frequency&#160;&#160;[GHz]</tspan></text>
<text transform="translate(148.40 456.20)" font-size="22.6" text-anchor="start" fill="#151515" stroke="#151515" stroke-width="0.22"><tspan>(d)</tspan></text>
<text transform="translate(360.90 458.50) scale(0.962 1)" font-size="14.1" text-anchor="start" fill="#151515" stroke="#151515" stroke-width="0.22"><tspan font-style="italic">J</tspan><tspan font-size="10.5" dy="3.10">1</tspan><tspan dy="-3.10"> =</tspan></text>
<text transform="translate(457.90 458.50) scale(0.962 1)" font-size="14.1" text-anchor="end" fill="#151515" stroke="#151515" stroke-width="0.22"><tspan>0 mJ/m</tspan><tspan font-size="10.5" dy="-3.90">2</tspan></text>
<text transform="translate(360.90 475.10) scale(0.962 1)" font-size="14.1" text-anchor="start" fill="#151515" stroke="#151515" stroke-width="0.22"><tspan font-style="italic">J</tspan><tspan font-size="10.5" dy="3.10">2</tspan><tspan dy="-3.10"> = &#8722;1.0 mJ/m</tspan><tspan font-size="10.5" dy="-3.90">2</tspan></text>
<circle cx="254.66" cy="467.85" r="2.85" fill="#000"/>
<circle cx="265.51" cy="474.60" r="2.85" fill="#000"/>
<circle cx="276.37" cy="481.40" r="2.85" fill="#000"/>
<circle cx="287.22" cy="489.70" r="2.85" fill="#000"/>
<circle cx="298.07" cy="496.80" r="2.85" fill="#000"/>
<circle cx="308.93" cy="504.05" r="2.85" fill="#000"/>
<circle cx="319.78" cy="510.50" r="2.85" fill="#000"/>
<circle cx="330.64" cy="518.10" r="2.85" fill="#000"/>
<circle cx="341.50" cy="525.30" r="2.85" fill="#000"/>
<circle cx="352.35" cy="532.50" r="2.85" fill="#000"/>
<circle cx="363.20" cy="539.40" r="2.85" fill="#000"/>
<circle cx="374.06" cy="546.50" r="2.85" fill="#000"/>
<circle cx="384.91" cy="553.80" r="2.85" fill="#000"/>
<circle cx="395.77" cy="561.00" r="2.85" fill="#000"/>
<circle cx="406.62" cy="567.90" r="2.85" fill="#000"/>
<circle cx="417.48" cy="575.10" r="2.85" fill="#000"/>
<circle cx="428.33" cy="582.40" r="2.85" fill="#000"/>
<circle cx="439.19" cy="590.00" r="2.85" fill="#000"/>
<circle cx="450.04" cy="598.10" r="2.85" fill="#000"/>
</svg>
</body></html>
